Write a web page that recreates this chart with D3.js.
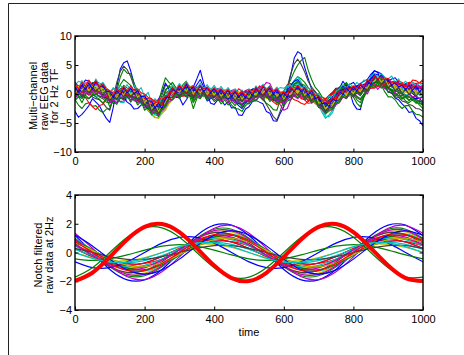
<!DOCTYPE html>
<html>
<head>
<meta charset="utf-8">
<script src="https://cdn.jsdelivr.net/npm/d3@7"></script>
<style>
html, body { margin: 0; padding: 0; background: #fff; }
svg { display: block; }
text { font-family: "Liberation Sans", Arial, Helvetica, sans-serif; }
</style>
</head>
<body>
<svg id="fig" width="464" height="355"></svg>
<script>
// ---- labels and ticks ----
const timeTicks = [0, 200, 400, 600, 800, 1000];
const rawTicks = [-10, -5, 0, 5, 10];
const notchTicks = [-4, -2, 0, 2, 4];
const rawLabel = ["Multi\u2212channel", "raw EEG data", "for 2 Hz TF"];
const notchLabel = ["Notch filtered", "raw data at 2Hz"];
const timeLabel = "time";

// classic colour order: b g r c m y k
const channelColors = ["#0000ff", "#008000", "#ff0000", "#00bfbf", "#bf00bf", "#bfbf00", "#404040"];

// ---- raw EEG, one row per channel, sampled every 10 ms from 0 to 1000 ----
const rawStep = 10;
const rawEEG = [
  [-3.0,-4.0,-3.5,-2.8,-2.0,-0.8,-1.4,-2.0,-3.2,-4.2, -4.9,-2.3,1.2,4.3,5.4,5.7,4.0,1.8,-0.6,-1.4, -1.9,-2.6,-1.8,-1.6,-0.9,0.3,1.9,0.8,0.7,-0.6, -0.6,-1.9,-1.0,0.0,1.2,2.6,4.1,1.8,-0.3,-1.6, -1.8,-1.0,-1.0,-1.9,-1.3,-2.4,-2.3,-3.6,-3.7,-2.6, -2.2,-1.3,-1.1,-1.4,-1.7,-3.0,-3.3,-4.6,-4.7,-3.3, -2.2,0.7,3.3,6.2,7.3,6.9,4.6,2.7,0.8,0.4, -0.7,-1.0,-1.7,-0.3,0.3,1.0,1.0,2.2,1.3,0.2, -1.7,-2.6,-2.7,-0.3,0.8,3.0,4.0,3.7,2.3,1.4, 0.3,0.2,-0.7,-1.0,-1.7,-2.3,-3.2,-3.0,-4.2,-4.6, -5.5],
  [-1.0,-1.9,-2.5,-1.7,-1.5,-2.1,-2.0,-2.8,-3.2,-2.6, -2.5,-0.8,0.5,2.9,4.3,3.6,3.5,1.8,0.5,-0.5, -1.0,-2.2,-2.8,-2.0,-1.5,0.9,2.8,2.0,1.5,0.7, 0.5,1.6,2.2,-0.4,-2.5,-0.8,0.5,-0.2,-0.5,0.3, 0.0,-0.6,-0.5,-0.5,-1.0,-1.9,-2.5,-2.6,-3.0,-2.0, -1.5,-1.2,-0.5,-0.4,-1.0,-1.6,-2.0,-2.7,-2.8,-1.0, 0.5,1.3,2.5,3.9,5.0,5.8,6.3,4.1,2.5,1.2, 0.5,-0.5,-1.0,-0.3,0.0,0.7,1.0,1.3,2.0,0.9, -0.5,-1.6,-2.2,-0.6,0.5,2.1,3.0,2.0,1.5,0.4, -0.5,-0.5,-1.0,-1.9,-2.5,-2.0,-2.0,-2.9,-3.5,-3.6, -4.0],
  [0.5,0.6,-0.5,-0.6,-1.5,-2.2,-2.7,-2.0,-1.8,-0.8, -0.5,0.4,0.2,-0.8,-0.5,0.6,0.5,-0.6,-0.8,-0.2, -0.5,-1.4,-1.2,-1.9,-1.8,-1.0,-0.8,-0.1,-0.3,0.6, 0.2,1.0,0.8,0.2,0.4,-0.6,-0.3,0.8,0.5,0.0, 0.2,-0.9,-0.4,0.6,0.3,-0.8,-0.2,0.9,0.5,-0.5, -0.3,0.7,0.4,1.4,0.8,0.0,-0.2,-1.2,-0.8,-0.3, 0.5,1.6,1.8,1.0,1.2,0.2,-0.5,-1.2,-0.8,-0.2, -0.3,-1.1,-1.0,-0.2,0.2,0.9,0.8,0.2,0.5,1.1, 1.2,0.6,1.0,1.7,1.5,2.3,2.0,1.3,1.8,2.4, 2.2,1.4,1.5,2.3,2.0,1.4,1.6,2.4,2.3,1.9, 2.5],
  [1.5,2.2,2.0,1.3,1.2,2.0,1.8,1.0,0.8,0.6, 0.0,-0.6,-0.8,-1.4,-1.5,-0.7,-0.5,-1.2,-1.0,-1.7, -2.0,-2.9,-3.5,-4.1,-4.0,-3.2,-2.0,-0.6,0.3,1.0, 1.2,0.6,0.5,-0.1,-0.3,0.5,0.8,0.2,0.2,1.0, 0.5,-0.4,-0.3,0.4,0.2,-0.6,-0.5,-1.2,-0.8,0.1, 0.0,0.8,0.5,-0.5,-0.2,0.9,0.6,-0.2,0.2,-0.9, -0.8,-0.3,0.5,1.8,2.5,1.6,1.0,0.1,-0.5,-1.2, -1.8,-2.9,-3.8,-3.9,-3.2,-1.6,-0.5,0.2,0.5,0.9, 1.0,0.5,0.3,1.2,1.8,2.8,3.2,2.9,2.5,2.3, 2.0,1.3,1.0,1.6,1.5,0.7,0.5,1.1,0.8,0.2, 0.2],
  [1.0,1.2,0.2,0.6,1.5,1.3,0.5,0.4,1.2,1.0, 0.3,-0.6,-0.5,-1.3,-1.2,-0.4,-0.2,0.8,0.5,-0.6, -0.8,-1.5,-2.5,-3.0,-3.2,-2.6,-1.5,0.0,0.8,0.0, 0.2,1.2,1.5,1.3,0.5,-0.1,-0.2,0.3,0.6,-0.5, -0.3,0.9,0.5,-0.6,-0.5,0.6,0.2,-0.9,-0.8,0.5, 0.3,-0.6,-0.2,1.0,1.2,2.0,1.8,0.5,-0.5,-1.9, -2.8,-2.5,-1.0,0.2,0.5,-0.6,-0.8,0.4,0.2,-0.9, -1.5,-2.4,-2.8,-2.5,-2.0,-0.6,0.5,1.3,1.0,0.2, 0.2,0.9,1.2,0.5,0.8,1.9,2.2,2.9,2.8,1.8, 1.5,2.2,2.0,1.1,0.8,1.5,1.3,0.4,0.5,1.4, 1.0],
  [0.8,1.4,1.2,0.6,0.5,1.1,1.0,0.2,0.3,-0.3, -0.2,0.3,-0.5,-0.3,0.2,-0.6,-0.3,-1.0,-0.8,-1.2, -1.8,-2.8,-3.2,-4.0,-4.2,-3.3,-2.2,-1.0,-0.5,0.2, 0.5,-0.2,0.2,-0.6,-0.5,0.4,0.3,-0.5,-0.2,0.5, 0.4,-0.3,0.0,-0.8,-0.3,0.5,0.2,-0.8,-0.5,-0.9, -0.2,0.6,0.3,-0.4,0.0,-0.8,-0.3,0.6,0.5,0.1, -0.2,0.6,0.2,1.0,0.8,0.2,-0.2,-0.9,-0.8,-1.3, -1.8,-2.6,-3.0,-3.1,-2.5,-1.4,-0.8,-0.1,0.3,-0.4, 0.0,0.7,0.5,0.6,1.2,2.0,2.8,2.6,3.0,2.3, 2.0,1.5,0.8,0.1,0.3,1.0,0.8,0.0,-0.2,0.5, 0.3],
  [0.5,-0.3,-0.5,0.2,0.3,-0.5,-0.8,-1.0,-1.5,-2.3, -2.8,-0.5,2.0,3.9,4.8,4.2,3.0,1.3,0.2,-0.8, -1.5,-2.3,-2.5,-2.3,-2.0,-0.2,1.5,1.3,0.8,0.0, -0.5,0.2,0.5,-0.4,-0.8,0.6,1.5,0.6,0.0,-0.3, -0.5,-1.1,-1.0,-0.4,-0.2,-1.0,-1.5,-1.6,-2.0,-1.2, -0.8,-0.1,0.2,-0.3,-0.5,-1.8,-2.8,-3.9,-4.5,-2.9, -1.0,1.2,3.5,5.2,6.0,5.1,3.8,2.2,1.2,0.4, -0.2,-1.2,-1.8,-1.0,-0.5,0.3,0.8,1.0,1.5,0.7, 0.2,-0.6,-1.0,0.0,0.8,2.4,3.5,2.6,2.0,1.0, 0.5,0.1,-0.5,-0.6,-1.2,-1.4,-1.8,-2.0,-2.5,-2.6, -3.0],
  [2.0,1.3,1.5,2.4,2.2,1.4,1.0,1.1,0.5,-0.4, -0.8,-1.6,-1.5,-0.7,-0.5,-1.4,-1.8,-2.6,-2.5,-1.9, -1.8,-2.6,-2.8,-3.4,-3.5,-2.4,-1.2,0.0,0.5,0.3, -0.2,0.4,0.5,-0.3,-0.5,0.3,0.8,-0.2,-0.8,-0.6, -0.2,0.5,0.5,-0.2,-0.5,-1.1,-1.2,-2.0,-2.5,-1.6, -1.0,-0.2,0.0,0.6,0.5,-0.3,-0.5,-0.2,-0.2,-1.0, -1.5,-0.8,-0.5,0.6,1.0,0.4,0.2,-0.6,-1.2,-1.5, -2.0,-2.7,-3.0,-2.5,-1.8,-0.8,0.0,0.6,0.8,0.4, 0.5,1.2,1.5,1.6,2.0,2.7,3.0,2.6,2.5,1.8, 1.5,1.9,1.8,1.0,0.5,0.9,1.0,0.1,-0.5,-0.8, -1.5],
  [-0.5,0.2,0.5,1.1,1.0,0.4,0.2,-0.5,-0.8,-1.4, -1.5,-0.8,-0.5,0.3,0.8,0.2,0.0,-0.6,-0.5,-1.2, -1.5,-2.1,-2.0,-2.9,-2.8,-1.4,-0.5,0.6,1.0,0.5, 0.3,1.2,1.8,0.0,-1.5,-0.5,0.0,0.4,0.5,-0.1, -0.3,0.3,0.2,-0.5,-0.8,-0.2,-0.3,-1.0,-1.2,-0.6, -0.5,0.3,0.5,-0.1,-0.2,0.4,0.5,-0.4,-0.8,-0.2, -0.3,0.5,0.8,1.4,1.5,0.8,0.5,-0.2,-0.5,-0.4, -0.8,-1.8,-2.5,-1.6,-1.2,-0.2,0.5,1.3,1.8,0.8, 0.0,-1.0,-1.5,-0.2,0.8,1.9,2.5,2.0,1.8,1.5, 1.0,0.4,0.2,-0.3,-0.5,-1.2,-1.5,-1.0,-0.8,-1.5, -1.8],
  [1.8,1.2,1.2,1.9,2.0,1.4,1.5,1.6,1.0,0.3, 0.2,0.9,0.8,0.1,-0.2,0.5,0.6,-0.1,0.0,-0.6, -0.5,-1.2,-1.5,-1.0,-1.2,-0.5,-0.3,0.4,0.5,-0.1, 0.0,0.6,0.6,1.2,1.0,0.3,0.2,0.9,0.8,0.4, 0.5,-0.2,0.0,0.7,0.6,0.1,0.2,-0.4,-0.2,0.5, 0.5,-0.1,0.0,0.5,0.3,1.0,0.8,0.2,0.0,-0.6, -0.5,0.4,0.5,-0.1,-0.2,-0.8,-1.0,-1.6,-1.5,-0.9, -0.8,-1.3,-1.2,-0.6,-0.5,0.1,0.2,0.8,0.8,0.4, 0.5,1.1,1.0,0.6,0.8,1.4,1.5,2.1,2.0,1.4, 1.2,1.8,1.8,1.2,1.0,1.7,2.0,1.5,1.5,1.9, 1.8],
  [0.2,0.3,0.8,0.9,0.5,1.2,1.5,1.0,0.8,0.2, 0.2,0.3,-0.3,0.2,0.5,-0.2,-0.5,-0.6,-0.2,-0.8, -1.0,-1.6,-2.0,-2.7,-3.0,-2.6,-1.8,-0.8,-0.2,0.5, 0.8,0.2,0.3,0.4,0.0,-0.6,-0.5,0.2,0.5,0.0, 0.0,0.4,0.3,-0.4,-0.5,-0.1,0.0,-0.5,-0.3,0.2, 0.3,0.9,0.8,0.3,0.2,-0.2,0.0,0.6,0.8,1.1, 1.0,1.4,1.5,1.6,2.0,1.2,0.8,0.5,0.0,-0.4, -1.0,-2.4,-3.5,-2.9,-2.0,-1.6,-0.8,-0.2,0.0,0.6, 0.8,0.4,0.5,0.9,1.0,1.6,2.0,2.2,2.5,2.0, 1.5,1.2,0.8,0.5,0.3,-0.1,-0.2,0.3,0.5,-0.2, -0.5],
  [-0.5,-0.2,0.3,0.2,-0.2,0.4,0.8,0.2,-0.5,-0.7, -1.2,-1.2,-0.8,-0.2,0.0,-0.4,-0.5,-1.1,-1.5,-1.0, -1.0,-1.6,-1.8,-2.2,-2.2,-1.2,-0.5,0.0,0.3,0.8, 1.0,0.3,0.0,0.5,0.8,0.2,-0.2,0.2,0.3,0.7, 0.8,0.2,-0.2,0.1,0.2,0.6,0.8,0.3,0.0,-0.4, -0.5,0.1,0.5,1.2,1.5,0.8,0.2,-0.3,-0.5,-1.1, -1.5,-0.7,0.0,0.6,0.8,0.3,0.0,-0.6,-1.0,-1.6, -2.0,-2.2,-2.0,-1.6,-1.0,-0.3,0.2,0.8,1.2,1.2, 1.0,0.6,0.5,1.3,1.8,2.1,2.5,3.0,3.2,2.5, 2.0,1.6,1.5,1.8,1.8,1.4,1.2,1.6,1.8,1.3, 1.0],
  [1.2,0.8,0.5,1.2,1.8,1.6,1.2,1.0,0.8,0.2, -0.2,0.3,0.5,-0.2,-0.8,-0.3,0.0,-0.2,-0.5,-1.0, -1.5,-2.2,-2.8,-3.1,-3.2,-2.4,-1.5,-0.4,0.5,0.2, 0.0,0.5,0.8,0.4,0.3,-0.1,0.0,0.4,0.5,0.0, -0.2,-0.7,-0.5,-1.0,-1.0,-1.3,-1.2,-0.6,-0.7,-1.1, -0.8,-0.2,0.1,0.3,0.0,-0.5,-0.3,-0.6,-0.4,0.1, 0.2,0.0,-0.2,0.4,0.5,0.2,0.0,-0.3,-0.5,-1.0, -1.5,-2.1,-2.5,-2.8,-2.8,-1.8,-1.0,-0.6,0.0,0.4, 0.5,0.6,0.8,1.3,1.5,1.8,2.2,2.6,2.8,2.2, 1.8,1.7,1.5,1.2,1.0,0.7,0.5,0.8,1.0,0.9, 0.8],
  [0.0,0.6,1.0,0.4,0.5,1.0,0.8,0.2,0.2,-0.4, -0.5,-0.2,0.0,0.9,1.2,0.6,0.5,0.0,-0.3,-0.9, -1.2,-1.7,-1.8,-2.2,-2.0,-0.9,0.2,0.5,0.5,-0.2, -0.5,-0.3,0.2,-0.2,-0.3,0.3,0.5,0.1,0.0,-0.4, -0.5,-0.1,-0.2,-0.7,-0.8,-0.4,-0.5,-1.1,-1.0,-0.7, -0.8,-0.3,-0.2,0.1,0.0,-0.5,-0.8,-1.0,-1.5,-1.2, -0.5,0.2,1.0,1.7,2.0,1.4,1.0,0.4,0.0,-0.6, -1.0,-1.6,-2.0,-1.4,-1.0,-0.3,0.2,0.7,1.0,0.6, 0.5,0.1,0.0,0.8,1.2,2.1,2.8,2.3,2.0,1.3, 1.0,0.6,0.5,0.3,0.0,-0.2,-0.5,-0.6,-1.0,-1.3, -1.2],
  [0.8,1.1,1.5,0.6,0.2,0.8,1.0,0.2,-0.5,-0.6, -1.0,-0.3,0.0,-0.6,-0.8,-0.3,-0.2,-0.7,-0.8,-1.5, -2.0,-2.4,-2.5,-2.1,-2.2,-1.2,-0.5,-0.3,0.0,0.6, 0.8,0.0,-0.5,0.0,0.3,1.1,1.5,0.0,-1.2,-0.8, -0.5,0.0,0.2,-0.5,-0.8,-0.7,-1.0,-1.6,-1.8,-1.4, -1.2,-0.5,-0.2,0.2,0.3,-0.3,-0.5,-1.0,-1.2,-0.9, -0.8,-0.1,0.5,1.0,1.2,0.5,0.0,-0.5,-0.8,-1.3, -1.5,-2.0,-2.2,-1.5,-1.0,-0.1,0.5,0.8,1.2,1.7, 2.0,1.2,0.8,1.0,1.5,2.6,3.5,3.3,3.0,2.5, 2.2,1.5,1.0,1.4,1.5,0.8,0.0,-0.5,-0.8,-0.7, -0.5],
  [1.0,0.5,0.5,1.2,1.5,1.9,2.0,1.4,1.2,0.5, 0.0,-0.6,-0.8,0.5,1.5,1.0,1.0,0.5,0.0,-0.4, -0.5,-1.0,-1.5,-2.2,-2.5,-1.0,0.5,1.4,2.0,1.1, 0.5,0.9,1.0,0.4,0.0,0.5,0.8,0.3,0.0,0.4, 0.5,-0.1,-0.5,-0.1,0.0,-0.5,-0.8,-0.5,-0.5,-0.1, 0.0,-0.4,-0.5,-0.1,0.2,-0.5,-1.0,-0.6,-0.5,-0.9, -1.2,0.2,1.5,2.3,3.0,2.6,2.0,1.1,0.5,0.0, -0.5,-1.1,-1.5,-0.6,0.0,0.7,1.2,1.4,1.8,1.3, 1.0,0.4,0.0,0.6,1.0,1.9,2.5,2.6,2.8,1.8, 1.0,0.4,0.0,-0.5,-0.8,-0.6,-0.5,-1.1,-1.5,-1.6, -2.0],
  [0.0,0.5,0.8,0.2,-0.2,0.3,0.5,0.1,0.0,-0.5, -0.8,-0.4,-0.3,0.1,0.3,-0.2,-0.6,-0.8,-1.2,-0.9, -0.8,-1.3,-1.5,-1.9,-2.0,-1.6,-1.5,-0.9,-0.5,0.0, 0.0,-0.4,-0.3,0.2,0.5,0.1,0.0,-0.4,-0.5,-0.1, 0.3,0.0,-0.2,-0.6,-0.6,-0.2,0.0,-0.5,-0.8,-1.1, -1.2,-0.7,-0.5,-0.2,0.0,-0.4,-0.8,-1.4,-1.8,-1.5, -1.2,-0.6,-0.2,0.0,0.0,-0.4,-0.5,-1.0,-1.2,-0.8, -0.5,-1.1,-1.5,-1.2,-0.8,-0.3,0.0,0.3,0.5,0.2, 0.2,0.7,1.0,0.6,0.5,1.0,1.2,1.5,1.5,1.8, 2.0,1.5,1.2,1.4,1.5,1.2,1.0,1.3,1.2,1.0, 0.8],
  [-0.8,-0.6,-0.2,0.3,0.5,0.0,-0.5,-0.2,0.2,-0.2, -0.5,-0.9,-1.0,-0.5,-0.2,0.2,0.3,-0.2,-0.5,-1.0, -1.5,-2.4,-3.0,-3.6,-3.8,-3.3,-2.5,-1.6,-0.8,-0.2, 0.2,-0.1,-0.2,0.3,0.5,0.2,0.0,-0.4,-0.3,0.1, 0.2,-0.3,-0.5,-0.1,0.0,-0.4,-0.2,-0.6,-0.5,-0.1, 0.2,-0.2,0.0,0.4,0.5,0.1,0.0,-0.4,-0.5,-0.1, 0.3,0.6,1.0,2.2,3.0,2.0,0.8,0.0,-0.8,-1.3, -2.0,-3.2,-4.2,-3.6,-2.8,-1.8,-1.0,-0.3,0.2,0.0, 0.0,0.5,0.8,0.9,1.2,1.8,2.2,1.7,1.5,1.8, 1.8,1.2,0.8,1.1,1.0,0.5,0.2,0.3,0.0,0.3, 0.5],
  [0.5,1.0,1.2,0.7,0.8,1.4,1.8,1.2,1.0,0.6, 0.5,0.1,0.0,-0.6,-0.5,0.4,0.8,0.3,0.2,-0.3, -0.5,-1.4,-2.0,-2.6,-2.8,-2.0,-1.2,-0.4,0.0,0.4, 0.5,1.0,1.2,0.4,0.0,0.4,0.5,0.9,1.0,0.6, 0.5,0.9,0.8,0.2,0.0,0.4,0.5,0.1,0.2,0.6, 0.8,0.4,0.3,0.0,0.0,0.6,1.0,0.6,0.5,0.1, -0.5,0.0,0.2,-0.4,-0.8,-0.2,0.5,0.3,0.0,-0.6, -1.0,-1.4,-1.5,-2.0,-2.2,-1.2,-0.5,0.2,0.5,0.9, 1.0,1.4,1.5,1.1,1.0,1.5,1.8,2.1,2.2,2.5, 2.5,2.0,1.8,1.4,1.2,1.5,1.5,1.0,0.8,1.2, 1.5],
  [0.3,0.0,-0.2,0.5,0.8,0.4,0.2,0.7,1.0,0.5, 0.3,0.0,-0.2,0.3,0.5,0.1,0.0,-0.3,-0.5,-0.6, -1.0,-1.8,-2.2,-3.0,-3.5,-3.3,-2.8,-1.7,-1.0,-0.4, 0.0,0.4,0.5,0.1,0.0,-0.3,-0.3,0.1,0.2,-0.1, 0.0,-0.3,-0.3,0.1,0.3,0.0,0.0,-0.4,-0.3,0.1, 0.2,-0.1,-0.2,0.3,0.5,0.2,0.2,0.0,0.0,0.3, 0.5,0.1,0.0,0.3,0.3,-0.1,-0.3,-0.8,-1.0,-1.7, -2.2,-2.9,-3.3,-2.6,-2.0,-1.1,-0.5,0.1,0.5,0.3, 0.2,0.4,0.5,0.8,1.0,1.5,1.8,2.0,2.2,2.4, 2.5,1.8,1.2,0.8,0.5,0.3,0.2,0.4,0.5,0.2, 0.0],
  [-0.5,-0.1,0.0,-0.6,-0.8,-0.3,0.0,-0.4,-0.5,-1.0, -1.2,-0.8,-0.5,0.2,0.5,0.0,-0.2,-0.6,-0.8,-1.4, -1.8,-2.3,-2.5,-2.9,-3.0,-1.8,-0.8,-0.2,0.2,0.1, -0.2,0.2,0.5,-0.1,-0.5,-0.1,0.2,0.1,-0.2,0.2, 0.3,-0.2,-0.5,-0.2,-0.2,-0.6,-0.8,-0.5,-0.5,-0.2, -0.2,0.2,0.3,-0.1,-0.2,0.3,0.5,-0.1,-0.5,-0.2, 0.0,0.5,0.8,1.1,1.2,0.6,0.3,-0.2,-0.5,-1.0, -1.5,-2.3,-2.8,-2.2,-1.5,-0.7,-0.2,0.3,0.5,0.7, 0.8,0.4,0.3,0.8,1.0,1.6,2.0,2.3,2.5,2.0, 1.5,1.3,1.0,0.6,0.5,0.8,0.8,0.4,0.2,0.4, 0.5],
  [1.2,0.7,0.5,0.9,1.0,1.8,2.2,1.8,1.5,0.9, 0.5,0.0,-0.5,-0.1,0.2,-0.5,-1.0,-0.6,-0.5,-1.0, -1.2,-1.7,-2.0,-2.5,-2.8,-1.8,-1.0,0.0,0.8,0.4, 0.2,0.8,1.2,0.8,0.5,1.6,2.5,1.2,0.0,0.5, 0.8,0.3,0.0,0.4,0.5,0.0,-0.5,-0.3,-0.2,0.2, 0.5,0.8,1.0,0.5,0.2,-0.2,-0.5,-0.1,0.3,-0.2, -0.5,0.6,1.5,2.2,2.5,1.6,1.0,0.4,-0.2,-0.5, -1.0,-1.6,-2.0,-1.2,-0.5,0.3,1.0,1.3,1.5,1.1, 0.8,1.4,1.8,2.2,2.5,3.4,4.0,3.8,3.5,2.8, 2.2,2.6,2.8,2.0,1.5,1.7,1.8,1.3,1.0,0.9, 0.8],
  [0.2,-0.4,-0.8,-0.1,0.5,0.2,-0.2,0.4,0.8,0.2, -0.5,-0.2,0.2,1.6,2.5,2.0,1.5,0.4,-0.5,-1.3, -1.8,-2.1,-2.2,-2.8,-3.0,-1.0,0.8,1.2,1.2,0.2, -0.5,0.3,0.8,0.0,-0.8,-0.1,0.5,0.0,-0.2,0.1, 0.3,-0.4,-0.8,-0.4,-0.3,0.1,0.2,-0.4,-0.8,-0.3, 0.0,0.3,0.3,-0.2,-0.5,-0.1,0.0,-0.6,-1.0,-0.6, -0.5,0.1,0.5,1.6,2.2,1.7,1.5,0.6,0.0,-0.8, -1.2,-1.8,-2.0,-1.3,-0.8,0.2,0.8,1.0,1.2,0.6, 0.3,-0.4,-0.8,-0.1,0.5,1.4,2.0,2.0,2.2,1.6, 1.2,0.8,0.5,0.4,0.0,-0.6,-1.0,-0.9,-1.2,-1.9, -2.5],
  [0.8,0.5,0.3,0.8,1.0,0.6,0.5,0.2,-0.2,-0.4, -0.5,0.1,0.5,0.2,0.0,-0.1,-0.3,0.0,0.2,-0.3, -0.8,-0.8,-1.0,-1.3,-1.5,-0.9,-0.5,-0.1,0.0,0.4, 0.5,0.3,0.2,0.1,-0.2,0.3,0.5,0.2,0.0,-0.2, -0.3,0.2,0.5,0.1,0.0,0.2,0.3,0.0,-0.2,0.1, 0.2,0.6,0.8,0.4,0.3,0.1,0.0,0.3,0.5,0.3, 0.2,-0.2,-0.5,-1.0,-1.2,-1.6,-1.8,-1.3,-1.0,-0.6, -0.3,-0.6,-0.8,-0.3,0.0,0.4,0.5,0.3,0.3,0.7, 1.0,0.7,0.5,0.9,1.2,1.0,1.0,1.3,1.5,1.7, 1.8,2.0,2.2,1.8,1.5,1.8,2.0,1.9,1.8,2.0, 2.2],
  [1.8,1.0,2.3,1.4,2.2,1.2,2.6,1.6,2.0,1.1, 0.2,1.1,0.4,1.5,0.9,1.6,0.6,1.5,0.4,1.1, -0.5,0.3,-1.4,-0.8,-1.9,-0.6,-0.4,0.6,1.5,0.8, 1.8,1.0,2.2,1.2,1.5,0.8,1.9,1.0,1.6,0.7, 1.5,0.6,1.3,0.4,1.1,0.2,0.9,0.1,0.7,-0.2, 0.9,0.2,1.4,0.6,1.7,0.8,1.5,0.5,1.2,0.3, 0.4,1.2,1.5,0.8,1.9,1.0,1.4,0.5,0.8,-0.1, 0.1,-1.0,-1.4,-0.3,-0.8,0.4,0.9,1.6,1.1,1.8, 1.2,2.0,1.5,2.4,2.2,3.0,3.6,2.8,3.5,2.9, 2.6,3.1,2.0,2.6,1.6,2.2,1.5,2.1,1.3,1.9, 1.2],
  [-0.8,0.2,-0.3,0.5,-0.1,0.6,0.0,0.4,-0.7,0.1, -1.6,-0.9,-1.5,-0.5,-1.0,-0.2,-1.1,-0.4,-1.5,-0.9, -2.4,-1.8,-3.3,-2.6,-3.6,-2.8,-2.2,-1.3,-1.0,-0.4, -0.7,0.1,-0.5,0.3,-0.9,-0.2,-0.6,0.2,-0.8,-0.3, -1.0,-0.4,-1.3,-0.6,-1.5,-0.8,-1.6,-0.9,-1.8,-1.0, -1.4,-0.6,-1.1,-0.2,-0.9,-0.1,-0.8,-0.5,-1.3,-0.7, -1.8,-0.9,-0.9,0.0,-0.7,0.1,-1.0,-0.5,-1.6,-1.0, -2.3,-2.6,-3.4,-2.8,-2.7,-1.8,-1.5,-0.5,-0.8,0.0, -0.6,0.2,-0.3,0.6,0.0,1.2,1.6,0.8,1.5,0.9, 0.9,0.5,0.2,-0.3,-0.2,-0.6,0.0,-0.5,-0.3,-0.8, -0.5],
  [0.2,1.3,0.6,1.7,0.5,1.4,0.8,1.9,0.3,1.0, -0.8,0.1,-0.6,0.4,-0.2,0.8,-0.1,0.6,-0.6,0.2, -1.5,-0.9,-2.6,-1.8,-3.0,-2.1,-1.4,-0.4,0.1,0.8, 0.3,1.1,0.5,1.4,0.0,0.9,0.2,1.0,-0.1,0.7, -0.2,0.6,-0.4,0.5,-0.6,0.2,-0.8,0.3,-0.9,0.1, -0.6,0.4,-0.1,0.7,0.1,0.9,-0.2,0.6,-0.4,0.4, -0.9,0.1,0.0,0.9,0.3,1.1,-0.2,0.5,-0.7,0.1, -1.6,-1.4,-2.6,-1.8,-1.9,-0.8,-0.6,0.4,-0.1,0.8, 0.1,1.0,0.4,1.3,1.0,2.1,2.2,3.0,2.0,2.7, 1.4,2.1,0.9,1.6,0.4,1.3,0.3,1.2,0.1,0.9, 0.2],
  [-0.3,0.5,-0.5,0.9,0.2,1.0,0.3,1.1,-0.2,0.5, -1.2,-0.3,-1.0,0.1,-0.5,0.4,-0.5,0.2,-1.1,-0.4, -2.0,-1.3,-3.0,-2.2,-3.4,-2.3,-1.8,-0.6,-0.6,0.2, -0.3,0.6,0.0,0.9,-0.6,0.4,-0.5,0.5,-0.6,0.2, -0.6,0.1,-0.9,0.0,-1.1,-0.3,-1.2,-0.2,-1.4,-0.5, -1.0,-0.1,-0.6,0.3,-0.4,0.5,-0.6,0.2,-0.9,-0.2, -1.3,-0.4,-0.5,0.5,-0.2,0.6,-0.6,0.0,-1.2,-0.6, -2.0,-2.0,-3.0,-2.3,-2.3,-1.3,-1.0,0.0,-0.5,0.4, -0.3,0.6,0.0,0.9,0.6,1.6,1.8,2.5,1.6,2.3, 1.0,1.6,0.5,1.1,0.0,0.8,-0.1,0.6,-0.4,0.3, -0.3],
  [1.1,0.3,1.6,0.8,1.9,0.9,2.1,1.2,1.4,0.5, 0.4,-0.6,0.6,-0.2,1.1,0.2,1.0,0.0,0.6,-0.5, -0.3,-1.2,-1.2,-2.4,-1.6,-2.6,-0.5,-0.6,1.0,0.3, 1.4,0.5,1.7,0.6,1.3,0.3,1.4,0.4,1.2,0.2, 1.0,-0.1,0.8,-0.2,0.6,-0.5,0.5,-0.6,0.2,-0.7, 0.6,-0.3,1.0,0.1,1.3,0.3,1.1,0.0,0.8,-0.4, 0.3,-0.6,1.1,0.4,1.4,0.3,1.0,-0.2,0.6,-0.8, -0.5,-1.7,-1.5,-2.2,-0.8,-1.2,0.5,-0.1,1.1,0.3, 1.3,0.5,1.6,0.9,2.3,1.6,3.3,2.5,3.2,2.4, 2.6,1.5,2.0,1.2,1.6,0.7,1.6,0.6,1.4,0.4, 1.0],
  [-1.2,-0.4,-1.5,-0.2,-0.8,0.0,-0.5,-0.9,-1.6,-0.8, -2.2,-1.2,-1.8,-0.7,-1.0,-0.3,-1.4,-0.6,-1.9,-1.2, -2.8,-2.2,-3.6,-3.0,-3.9,-2.6,-2.0,-0.9,-1.0,0.0, -0.8,0.2,-0.4,0.5,-1.1,-0.5,-0.8,0.0,-1.1,-0.5, -1.3,-0.8,-1.7,-1.0,-1.9,-1.3,-2.0,-1.2,-2.3,-1.5, -1.7,-0.9,-1.2,-0.4,-1.0,-0.3,-1.3,-0.7,-1.6,-1.1, -2.1,-1.2,-1.0,-0.2,-0.6,0.3,-0.9,-0.4,-1.5,-1.0, -2.3,-2.5,-3.3,-2.6,-2.5,-1.6,-1.3,-0.4,-0.7,0.1, -0.5,0.3,-0.2,0.6,0.4,1.3,1.2,1.9,1.0,1.5, 0.3,0.8,-0.4,0.2,-0.9,-0.3,-1.2,-0.6,-1.6,-1.1, -1.8],
  [1.6,0.9,2.0,1.3,2.4,1.5,2.3,1.2,1.8,0.8, 0.6,-0.1,0.9,0.3,1.3,0.5,1.4,0.6,0.9,0.2, 0.0,-0.6,-0.8,-1.5,-1.3,-1.9,-0.3,-0.4,1.0,0.6, 1.5,0.8,1.9,1.1,1.4,0.6,1.5,0.9,1.2,0.5, 1.1,0.4,0.9,0.2,0.8,0.0,0.6,-0.1,0.5,-0.3, 0.7,0.1,1.2,0.5,1.4,0.7,1.3,0.4,0.9,0.1, 0.4,-0.2,1.2,0.6,1.5,0.7,1.1,0.3,0.7,-0.2, -0.3,-1.0,-1.1,-1.6,-0.6,-0.9,0.5,0.3,1.2,0.8, 1.4,1.0,1.7,1.3,2.4,2.0,3.1,2.6,3.0,2.5, 2.7,1.9,2.1,1.6,1.8,1.2,1.7,1.1,1.5,1.0, 1.3]
];

// ---- notch-filtered (2 Hz) channels, sampled every 50 ms from 0 to 1000 ----
const notchStep = 50;
const notchEEG = [
  [1.18,0,-1.18,-1.9,-1.9,-1.18,0,1.18,1.9,1.9, 1.18,0,-1.18,-1.9,-1.9,-1.18,0,1.18,1.9,1.9, 1.18],
  [1.0,0,-1.0,-1.62,-1.62,-1.0,0,1.0,1.62,1.62, 1.0,0,-1.0,-1.62,-1.62,-1.0,0,1.0,1.62,1.62, 1.0],
  [0.5,-0.17,-0.78,-1.09,-0.98,-0.5,0.17,0.78,1.09,0.98, 0.5,-0.17,-0.78,-1.09,-0.98,-0.5,0.17,0.78,1.09,0.98, 0.5],
  [0.92,0.2,-0.59,-1.16,-1.28,-0.92,-0.2,0.59,1.16,1.28, 0.92,0.2,-0.59,-1.16,-1.28,-0.92,-0.2,0.59,1.16,1.28, 0.92],
  [1.34,0.3,-0.86,-1.69,-1.88,-1.34,-0.3,0.86,1.69,1.88, 1.34,0.3,-0.86,-1.69,-1.88,-1.34,-0.3,0.86,1.69,1.88, 1.34],
  [0.88,0,-0.88,-1.43,-1.43,-0.88,0,0.88,1.43,1.43, 0.88,0,-0.88,-1.43,-1.43,-0.88,0,0.88,1.43,1.43, 0.88],
  [0.64,-0.22,-0.99,-1.38,-1.25,-0.64,0.22,0.99,1.38,1.25, 0.64,-0.22,-0.99,-1.38,-1.25,-0.64,0.22,0.99,1.38,1.25, 0.64],
  [0.28,-0.28,-0.73,-0.9,-0.73,-0.28,0.28,0.73,0.9,0.73, 0.28,-0.28,-0.73,-0.9,-0.73,-0.28,0.28,0.73,0.9,0.73, 0.28],
  [0.85,0.19,-0.54,-1.07,-1.19,-0.85,-0.19,0.54,1.07,1.19, 0.85,0.19,-0.54,-1.07,-1.19,-0.85,-0.19,0.54,1.07,1.19, 0.85],
  [0.47,0,-0.47,-0.76,-0.76,-0.47,0,0.47,0.76,0.76, 0.47,0,-0.47,-0.76,-0.76,-0.47,0,0.47,0.76,0.76, 0.47],
  [0.45,-0.16,-0.71,-0.99,-0.89,-0.45,0.16,0.71,0.99,0.89, 0.45,-0.16,-0.71,-0.99,-0.89,-0.45,0.16,0.71,0.99,0.89, 0.45],
  [0.94,0,-0.94,-1.52,-1.52,-0.94,0,0.94,1.52,1.52, 0.94,0,-0.94,-1.52,-1.52,-0.94,0,0.94,1.52,1.52, 0.94],
  [0,-0.35,-0.57,-0.57,-0.35,0,0.35,0.57,0.57,0.35, 0,-0.35,-0.57,-0.57,-0.35,0,0.35,0.57,0.57,0.35, 0],
  [0.71,0.16,-0.45,-0.89,-0.99,-0.71,-0.16,0.45,0.89,0.99, 0.71,0.16,-0.45,-0.89,-0.99,-0.71,-0.16,0.45,0.89,0.99, 0.71],
  [-0.65,-1.05,-1.05,-0.65,0,0.65,1.05,1.05,0.65,0, -0.65,-1.05,-1.05,-0.65,0,0.65,1.05,1.05,0.65,0, -0.65],
  [-0.44,-0.55,-0.44,-0.17,0.17,0.44,0.55,0.44,0.17,-0.17, -0.44,-0.55,-0.44,-0.17,0.17,0.44,0.55,0.44,0.17,-0.17, -0.44],
  [0.28,-0.28,-0.73,-0.9,-0.73,-0.28,0.28,0.73,0.9,0.73, 0.28,-0.28,-0.73,-0.9,-0.73,-0.28,0.28,0.73,0.9,0.73, 0.28],
  [0.22,-0.22,-0.57,-0.7,-0.57,-0.22,0.22,0.57,0.7,0.57, 0.22,-0.22,-0.57,-0.7,-0.57,-0.22,0.22,0.57,0.7,0.57, 0.22],
  [0.54,-0.19,-0.85,-1.19,-1.07,-0.54,0.19,0.85,1.19,1.07, 0.54,-0.19,-0.85,-1.19,-1.07,-0.54,0.19,0.85,1.19,1.07, 0.54],
  [0.71,0.16,-0.45,-0.89,-0.99,-0.71,-0.16,0.45,0.89,0.99, 0.71,0.16,-0.45,-0.89,-0.99,-0.71,-0.16,0.45,0.89,0.99, 0.71],
  [0.29,0,-0.29,-0.48,-0.48,-0.29,0,0.29,0.48,0.48, 0.29,0,-0.29,-0.48,-0.48,-0.29,0,0.29,0.48,0.48, 0.29],
  [1.21,0.46,-0.46,-1.21,-1.5,-1.21,-0.46,0.46,1.21,1.5, 1.21,0.46,-0.46,-1.21,-1.5,-1.21,-0.46,0.46,1.21,1.5, 1.21],
  [-1.71,-1.06,0,1.06,1.71,1.71,1.06,0,-1.06,-1.71, -1.71,-1.06,0,1.06,1.71,1.71,1.06,0,-1.06,-1.71, -1.71],
  [0.76,0,-0.76,-1.24,-1.24,-0.76,0,0.76,1.24,1.24, 0.76,0,-0.76,-1.24,-1.24,-0.76,0,0.76,1.24,1.24, 0.76],
  [0,-0.41,-0.67,-0.67,-0.41,0,0.41,0.67,0.67,0.41, 0,-0.41,-0.67,-0.67,-0.41,0,0.41,0.67,0.67,0.41, 0]
];
// highlighted channel, drawn last with a heavy red stroke
const notchHighlight = [-1.98,-1.41,-0.31,0.91,1.78,1.98,1.41,0.31,-0.91,-1.78, -1.98,-1.41,-0.31,0.91,1.78,1.98,1.41,0.31,-0.91,-1.78, -1.98];

// ---- figure ----
const svg = d3.select("#fig");
const FONT = 11;

// figure frame (left and top edges)
svg.append("path")
  .attr("d", "M8.5,355 V3.5 H464")
  .attr("fill", "none").attr("stroke", "#222").attr("stroke-width", 1);

const x = d3.scaleLinear().domain([0, 1000]).range([75, 423]);

function drawPanel(id, y, yTicks, series, step, lineWidth, curve, labelLines, labelCenterY, labelBaselines) {
  const [x0, x1] = x.range();
  const [yb, yt] = y.range();
  const g = svg.append("g").attr("class", id);

  svg.append("clipPath").attr("id", "clip-" + id)
    .append("rect").attr("x", x0).attr("y", yt).attr("width", x1 - x0).attr("height", yb - yt);

  const line = d3.line()
    .x((d, i) => x(i * step))
    .y(d => y(d))
    .curve(curve);

  const lines = g.append("g").attr("clip-path", `url(#clip-${id})`);
  lines.selectAll("path.ch")
    .data(series)
    .join("path")
    .attr("class", "ch")
    .attr("d", line)
    .attr("fill", "none")
    .attr("stroke", (d, i) => channelColors[i % channelColors.length])
    .attr("stroke-width", lineWidth)
    .attr("stroke-linejoin", "round");

  const fmt = d3.format("d");
  const styleAxis = sel => {
    sel.select(".domain").remove();
    sel.selectAll(".tick line").attr("stroke", "#000").attr("stroke-width", 1);
    sel.selectAll(".tick text").attr("fill", "#000")
      .style("font-family", '"Liberation Sans", Arial, Helvetica, sans-serif')
      .style("font-size", FONT + "px");
  };

  g.append("g").attr("transform", `translate(0,${yb})`)
    .call(d3.axisBottom(x).tickValues(timeTicks).tickSizeInner(-3.5).tickSizeOuter(0).tickPadding(5).tickFormat(fmt))
    .call(styleAxis);
  g.append("g").attr("transform", `translate(0,${yt})`)
    .call(d3.axisTop(x).tickValues(timeTicks).tickSizeInner(-3.5).tickSizeOuter(0).tickFormat(""))
    .call(styleAxis);
  g.append("g").attr("transform", `translate(${x0},0)`)
    .call(d3.axisLeft(y).tickValues(yTicks).tickSizeInner(-3.5).tickSizeOuter(0).tickPadding(3).tickFormat(fmt))
    .call(styleAxis);
  g.append("g").attr("transform", `translate(${x1},0)`)
    .call(d3.axisRight(y).tickValues(yTicks).tickSizeInner(-3.5).tickSizeOuter(0).tickFormat(""))
    .call(styleAxis);

  g.append("rect")
    .attr("x", x0).attr("y", yt).attr("width", x1 - x0).attr("height", yb - yt)
    .attr("fill", "none").attr("stroke", "#000").attr("stroke-width", 1.4);

  // stacked, rotated y label
  labelLines.forEach((t, i) => {
    g.append("text")
      .attr("transform", `translate(${labelBaselines[i]},${labelCenterY}) rotate(-90)`)
      .attr("text-anchor", "middle")
      .attr("font-size", FONT)
      .attr("fill", "#000")
      .text(t);
  });
  return { g, line };
}

// top: raw multichannel data
const yRaw = d3.scaleLinear().domain([-10, 10]).range([152, 36]);
drawPanel("raw", yRaw, rawTicks, rawEEG, rawStep, 1.1, d3.curveLinear,
  rawLabel, 96, [37, 47.5, 58]);

// bottom: notch-filtered data
const yNotch = d3.scaleLinear().domain([-4, 4]).range([310, 195]);
const bottom = drawPanel("notch", yNotch, notchTicks, notchEEG, notchStep, 1.2, d3.curveNatural,
  notchLabel, 255, [42, 52.5]);

bottom.g.insert("path", "rect")
  .attr("clip-path", "url(#clip-notch)")
  .attr("d", bottom.line(notchHighlight))
  .attr("fill", "none")
  .attr("stroke", "#ff0000")
  .attr("stroke-width", 4)
  .attr("stroke-linejoin", "round");

svg.append("text")
  .attr("x", d3.mean(x.range()))
  .attr("y", 336)
  .attr("text-anchor", "middle")
  .attr("font-size", FONT)
  .attr("fill", "#000")
  .text(timeLabel);
</script>
</body>
</html>
